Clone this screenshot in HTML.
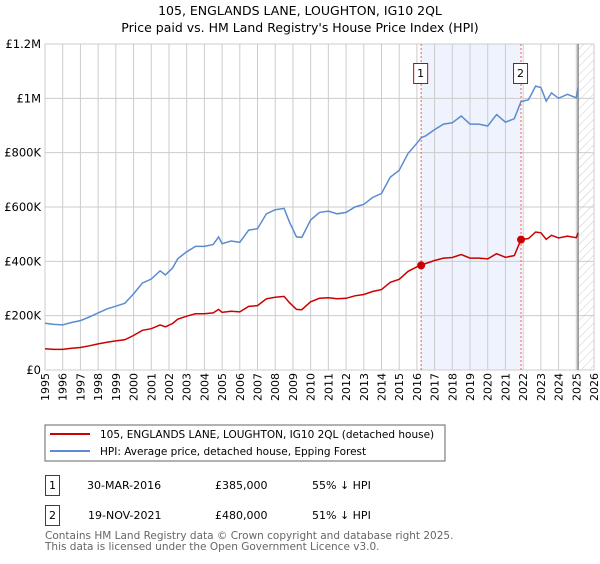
<!DOCTYPE html>
<html><head><meta charset="utf-8"><style>
body{margin:0;background:#fff;font-family:"DejaVu Sans","Liberation Sans",sans-serif;}
svg text{font-family:"DejaVu Sans","Liberation Sans",sans-serif;}
</style></head><body>
<svg id="chart" width="600" height="560" xmlns="http://www.w3.org/2000/svg">
<defs><pattern id="hatch" width="6" height="6" patternUnits="userSpaceOnUse" patternTransform="rotate(45)"><line x1="0" y1="0" x2="0" y2="6" stroke="#ccc" stroke-width="1"/></pattern></defs>
<text x="300" y="15" text-anchor="middle" font-size="12.5">105, ENGLANDS LANE, LOUGHTON, IG10 2QL</text>
<text x="300" y="32" text-anchor="middle" font-size="12.5">Price paid vs. HM Land Registry's House Price Index (HPI)</text>
<g id="plot"></g>
<rect x="45" y="425" width="400" height="36" fill="#fff" stroke="#666"/>
<line x1="50" y1="434" x2="90" y2="434" stroke="#cc0000" stroke-width="2"/>
<text x="100" y="438" font-size="10.5">105, ENGLANDS LANE, LOUGHTON, IG10 2QL (detached house)</text>
<line x1="50" y1="451" x2="90" y2="451" stroke="#5b8bd0" stroke-width="2"/>
<text x="100" y="455" font-size="10.5">HPI: Average price, detached house, Epping Forest</text>
<g>
<rect x="45.5" y="475.5" width="14" height="20" fill="#fff" stroke="#cc0000"/>
<text x="52.5" y="489" font-size="11" text-anchor="middle">1</text>
<text x="87" y="489" font-size="11">30-MAR-2016</text>
<text x="215" y="489" font-size="11">£385,000</text>
<text x="312" y="489" font-size="11">55% ↓ HPI</text>
</g>
<g>
<rect x="45.5" y="505.5" width="14" height="20" fill="#fff" stroke="#cc0000"/>
<text x="52.5" y="519" font-size="11" text-anchor="middle">2</text>
<text x="88" y="519" font-size="11">19-NOV-2021</text>
<text x="215" y="519" font-size="11">£480,000</text>
<text x="312" y="519" font-size="11">51% ↓ HPI</text>
</g>
<text x="45" y="539" font-size="10.5" fill="#666">Contains HM Land Registry data © Crown copyright and database right 2025.</text>
<text x="45" y="550" font-size="10.5" fill="#666">This data is licensed under the Open Government Licence v3.0.</text>
</svg>
<script>
const yTicks=[0,200000,400000,600000,800000,1000000,1200000];
const yTickLabels=["£0","£200K","£400K","£600K","£800K","£1M","£1.2M"];
const xTicks=[1995,1996,1997,1998,1999,2000,2001,2002,2003,2004,2005,2006,2007,2008,2009,2010,2011,2012,2013,2014,2015,2016,2017,2018,2019,2020,2021,2022,2023,2024,2025,2026];
const dates=[1995,1995.5,1996,1996.5,1997,1997.5,1998,1998.5,1999,1999.5,2000,2000.5,2001,2001.5,2001.8,2002.2,2002.5,2003,2003.5,2004,2004.5,2004.8,2005,2005.5,2006,2006.5,2007,2007.5,2008,2008.5,2008.8,2009.2,2009.5,2010,2010.5,2011,2011.5,2012,2012.5,2013,2013.5,2014,2014.5,2015,2015.5,2016,2016.25,2016.5,2017,2017.5,2018,2018.5,2019,2019.5,2020,2020.5,2021,2021.5,2021.88,2022.3,2022.7,2023,2023.3,2023.6,2024,2024.5,2025,2025.1];
const hpiValues=[172,168,166,175,182,195,210,225,235,245,280,320,335,365,350,375,410,435,455,455,462,490,465,475,470,515,520,575,590,595,545,490,488,552,580,585,575,580,600,610,635,650,710,735,797,835,855,862,885,905,910,935,905,905,898,940,912,925,988,995,1045,1040,990,1020,1000,1015,1002,1040];
const priceValues=[78,76,76,80,83,89,96,102,107,111,127,146,152,166,159,171,187,198,207,207,210,223,212,216,214,234,237,262,268,271,248,223,222,251,264,266,262,264,273,278,289,296,323,334,363,380,385,392,403,412,414,425,412,412,409,428,415,421,480,484,508,505,481,496,486,493,487,505];
const saleDates=[2016.24,2021.88];
const salePrices=[385000,480000];
const saleLabels=["1","2"];
const X0=45,X1=594,Y0=370,Y1=44;
const xs=y=>X0+(y-1995)/(2026-1995)*(X1-X0);
const ys=v=>Y0-v/1200000*(Y0-Y1);
const NS="http://www.w3.org/2000/svg";
const g=document.getElementById('plot');
function mk(t,a){const e=document.createElementNS(NS,t);for(const k in a)e.setAttribute(k,a[k]);g.appendChild(e);return e;}
let e=mk('rect',{x:xs(saleDates[0]),y:Y1,width:xs(saleDates[1])-xs(saleDates[0]),height:Y0-Y1,fill:'#eef3fd'});


e=mk('rect',{x:xs(2025.1),y:Y1,width:X1-xs(2025.1),height:Y0-Y1,fill:'url(#hatch)'});


xTicks.forEach(t=>{
 e=mk('line',{x1:xs(t),x2:xs(t),y1:Y1,y2:Y0,stroke:'#ccc'});
 
 
 e=mk('text',{x:0,y:0,'font-size':11,'text-anchor':'end',transform:`translate(${xs(t)+4},${Y0+3}) rotate(-90)`});
 e.textContent=t;
 
 
});
yTicks.forEach((t,i)=>{
 e=mk('line',{x1:X0,x2:X1,y1:ys(t),y2:ys(t),stroke:'#ccc'});
 
 
 e=mk('text',{x:X0-4,y:ys(t)+4,'font-size':11.5,'text-anchor':'end'});
 e.textContent=yTickLabels[i];
 
 
});
e=mk('line',{x1:xs(2025.1),x2:xs(2025.1),y1:Y1,y2:Y0,stroke:'#888','stroke-width':1.5});


saleDates.forEach((d,i)=>{
 e=mk('line',{x1:xs(d),x2:xs(d),y1:Y1,y2:Y0,stroke:'#ff5555','stroke-dasharray':'2,2'});
 
 
 e=mk('rect',{x:xs(d)-7.5,y:63.5,width:14,height:20,fill:'#fff',stroke:'#cc0000'});
 
 
 e=mk('text',{x:xs(d)-0.5,y:77,'font-size':11,'text-anchor':'middle'});
 e.textContent=saleLabels[i];
 
 
});
const pts=arr=>arr.map((v,i)=>xs(dates[i]).toFixed(1)+','+ys(v*1000).toFixed(1)).join(' ');
e=mk('polyline',{points:pts(hpiValues),fill:'none',stroke:'#5b8bd0','stroke-width':1.5});


e=mk('polyline',{points:pts(priceValues),fill:'none',stroke:'#cc0000','stroke-width':1.5});


saleDates.forEach((d,i)=>{
 e=mk('circle',{cx:xs(d),cy:ys(salePrices[i]),r:4,fill:'#cc0000'});
 
 
});
</script>
</body></html>
